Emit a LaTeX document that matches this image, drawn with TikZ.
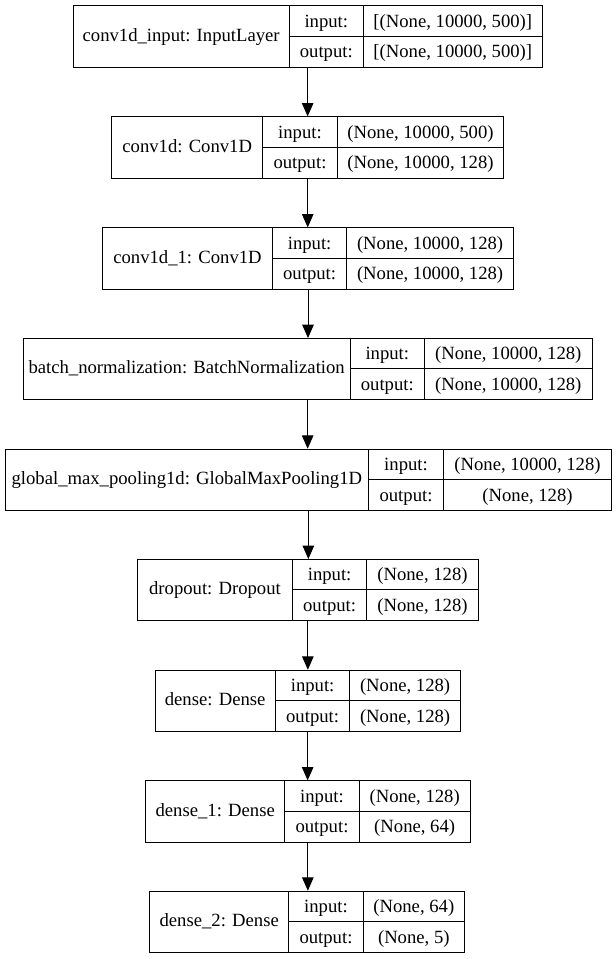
\documentclass[tikz,border=0pt]{standalone}
\usepackage{fontspec}
\setmainfont{Liberation Serif}
\usetikzlibrary{fit, arrows.meta}
\tikzset{
namecell/.style={draw, line width=0.75pt, inner sep=0pt, outer sep=0pt, minimum height=46pt, text height=9pt, text depth=2pt, font=\fontsize{14}{16}\selectfont}, % left part of a layer
iocell/.style={draw, line width=0.75pt, inner sep=0pt, outer sep=0pt, minimum width=55.95pt, minimum height=23pt, text height=9pt, text depth=0pt, font=\fontsize{14}{16}\selectfont}, % input/output rows
flow/.style={-{Triangle[length=10pt, width=8.6pt]}, line width=0.75pt}, % edges between layers
}
% one layer: id, left, split, right, top, name, input shape, output shape
\newcommand{\kerasnode}[8]{
  \node[namecell, anchor=north west, minimum width={(#3-#2)*0.75pt}] (#1) at (#2,#5) {#6};
  \node[iocell, anchor=north west] (#1-in) at (#1.north east) {input:};
  \node[iocell, anchor=north west] (#1-out) at (#1-in.south west) {output:};
  \node[iocell, anchor=north west, minimum width={(#4-#3-74.6)*0.75pt}] (#1-inv) at (#1-in.north east) {#7};
  \node[iocell, anchor=north west, minimum width={(#4-#3-74.6)*0.75pt}] (#1-outv) at (#1-inv.south west) {#8};
  \node[fit=(#1)(#1-outv), inner sep=0pt] (#1-box) {};
}

\begin{document}
\begin{tikzpicture}[x=0.75pt, y=-0.75pt]
  \fill[white] (0,0) rectangle (616,959);
  \useasboundingbox (0,0) rectangle (616,959);

  \kerasnode{l1}{73.3}{289}{542}{5.7}{conv1d\_input: InputLayer}{[(None, 10000, 500)]}{[(None, 10000, 500)]}
  \kerasnode{l2}{111.7}{262.7}{503.7}{116.7}{conv1d: Conv1D}{(None, 10000, 500)}{(None, 10000, 128)}
  \kerasnode{l3}{102.7}{272.3}{513.3}{227.7}{conv1d\_1: Conv1D}{(None, 10000, 128)}{(None, 10000, 128)}
  \kerasnode{l4}{23.3}{350}{592}{338.3}{batch\_normalization: BatchNormalization}{(None, 10000, 128)}{(None, 10000, 128)}
  \kerasnode{l5}{5}{368.7}{611.7}{449}{global\_max\_pooling1d: GlobalMaxPooling1D}{(None, 10000, 128)}{(None, 128)}
  \kerasnode{l6}{137.7}{292.3}{478}{559.3}{dropout: Dropout}{(None, 128)}{(None, 128)}
  \kerasnode{l7}{155}{275.3}{460.3}{670}{dense: Dense}{(None, 128)}{(None, 128)}
  \kerasnode{l8}{145.7}{284.7}{470}{780.7}{dense\_1: Dense}{(None, 128)}{(None, 64)}
  \kerasnode{l9}{149.7}{288.7}{464.3}{891}{dense\_2: Dense}{(None, 64)}{(None, 5)}

  \foreach \a/\b in {l1/l2, l2/l3, l3/l4, l4/l5, l5/l6, l6/l7, l7/l8, l8/l9}
    \draw[flow] (\a-box.south) -- (\a-box.south |- \b-box.north);

\end{tikzpicture}
\end{document}
